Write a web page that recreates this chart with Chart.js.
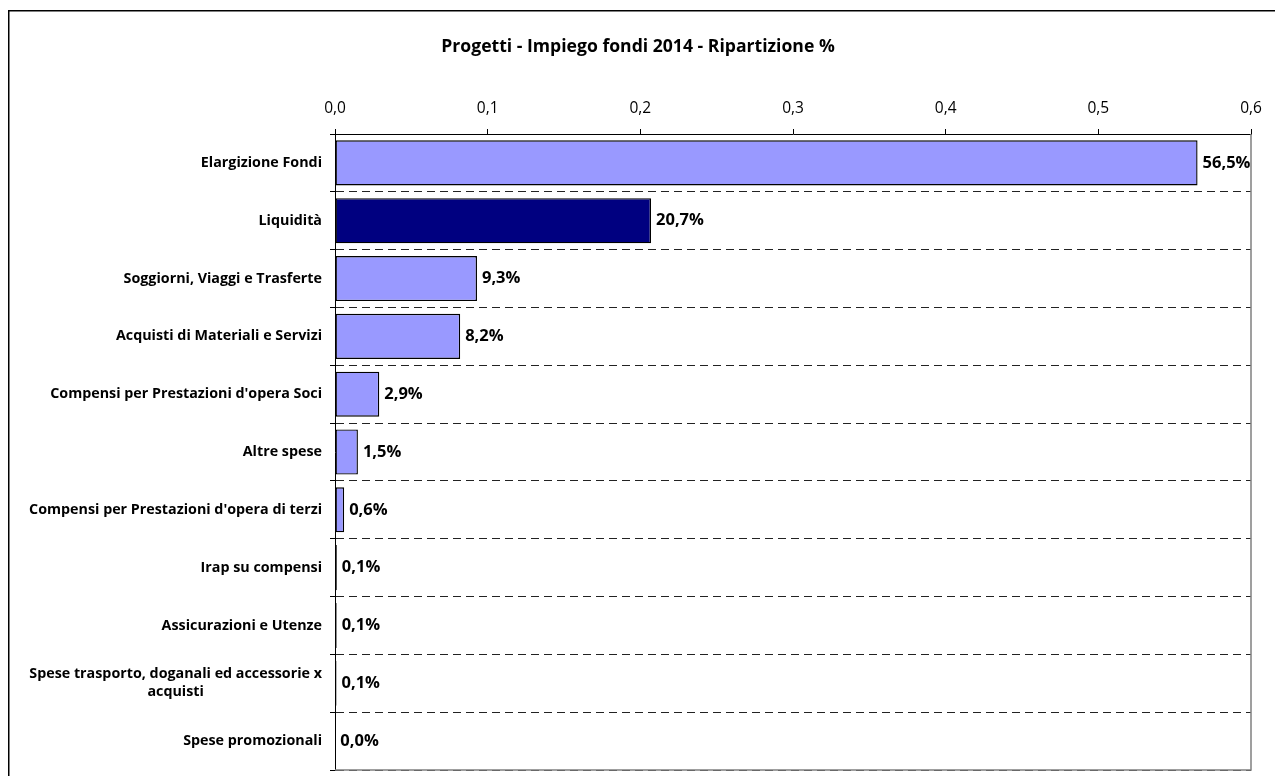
<!DOCTYPE html>
<html><head><meta charset="utf-8">
<script src="https://cdn.jsdelivr.net/npm/chart.js@4/dist/chart.umd.min.js"></script>
<style>html,body{margin:0;padding:0;background:#fff}#wrap{width:1275px;height:776px;position:relative}</style>
</head><body><div id="wrap"><canvas id="c" width="1275" height="776"></canvas></div>
<script>
const chartTitle = 'Progetti - Impiego fondi 2014 - Ripartizione %';
const categories = [
  ['Elargizione Fondi'],
  ['Liquidità'],
  ['Soggiorni, Viaggi e Trasferte'],
  ['Acquisti di Materiali e Servizi'],
  ["Compensi per Prestazioni d'opera Soci"],
  ['Altre spese'],
  ["Compensi per Prestazioni d'opera di terzi"],
  ['Irap su compensi'],
  ['Assicurazioni e Utenze'],
  ['Spese trasporto, doganali ed accessorie x', 'acquisti'],
  ['Spese promozionali']
];
const values = [0.565, 0.207, 0.093, 0.082, 0.029, 0.015, 0.006, 0.0012, 0.0011, 0.001, 0.0002];
const valueLabels = ['56,5%', '20,7%', '9,3%', '8,2%', '2,9%', '1,5%', '0,6%', '0,1%', '0,1%', '0,1%', '0,0%'];
const xTickValues = [0, 0.1, 0.2, 0.3, 0.4, 0.5, 0.6];
const highlightIndex = 1;

const LIGHT = '#9999FF', DARK = '#000080';
const FAM = '"Open Sans", Lato, sans-serif';
const labelFont = 'bold 14.3px ' + FAM;

const deco = {
  id: 'deco',
  afterDraw(chart) {
    const ctx = chart.ctx, a = chart.chartArea;
    ctx.save();
    // outer frame
    ctx.strokeStyle = '#000'; ctx.lineWidth = 1.5;
    ctx.beginPath(); ctx.moveTo(8.75, 800); ctx.lineTo(8.75, 10.75); ctx.lineTo(1300, 10.75); ctx.stroke();
    // plot right/bottom
    ctx.strokeStyle = '#808080'; ctx.lineWidth = 1.5;
    ctx.beginPath(); ctx.moveTo(a.right, a.top); ctx.lineTo(a.right, a.bottom); ctx.lineTo(a.left, a.bottom); ctx.stroke();
    // title
    ctx.fillStyle = '#000'; ctx.font = 'bold 17.6px ' + FAM;
    ctx.textAlign = 'center'; ctx.textBaseline = 'middle';
    ctx.fillText(chartTitle, 638, 47);
    // y labels
    const ys = chart.scales.y;
    ctx.font = labelFont;
    categories.forEach((lines, i) => {
      const yc = ys.getPixelForValue(i);
      const lh = 18;
      const w = Math.max(...lines.map(l => ctx.measureText(l).width));
      const rx = a.left - 13;
      lines.forEach((l, j) => {
        const y = yc + (j - (lines.length - 1) / 2) * lh;
        if (lines.length > 1) { ctx.textAlign = 'center'; ctx.fillText(l, rx - w / 2, y); }
        else { ctx.textAlign = 'right'; ctx.fillText(l, rx, y); }
      });
    });
    // value labels
    const meta = chart.getDatasetMeta(0);
    ctx.textAlign = 'left';
    ctx.font = 'bold 16.5px ' + FAM;
    meta.data.forEach((bar, i) => {
      ctx.fillText(valueLabels[i], bar.x + 5, bar.y);
    });
    ctx.restore();
  }
};

new Chart(document.getElementById('c'), {
  type: 'bar',
  data: {
    labels: categories.map(c => c.join(' ')),
    datasets: [{
      data: values,
      backgroundColor: values.map((v, i) => i === highlightIndex ? DARK : LIGHT),
      borderColor: '#000',
      borderWidth: 1.4,
      borderSkipped: false,
      categoryPercentage: 1,
      barPercentage: 0.78
    }]
  },
  options: {
    indexAxis: 'y',
    responsive: false,
    animation: false,
    devicePixelRatio: 1,
    layout: { padding: { left: 0, right: 24, top: 0, bottom: 6 } },
    plugins: { legend: { display: false }, title: { display: false }, tooltip: { enabled: false } },
    scales: {
      x: {
        position: 'top', min: 0, max: 0.6,
        afterFit(s) { s.height = 134; },
        afterBuildTicks(s) { s.ticks = xTickValues.map(v => ({ value: v })); },
        ticks: {
          padding: 11, color: '#000',
          font: { family: FAM, size: 15.5 },
          callback: v => v.toFixed(1).replace('.', ',')
        },
        grid: { drawOnChartArea: false, drawTicks: true, tickLength: 5, tickColor: '#000' },
        border: { display: true, color: '#000', width: 1 }
      },
      y: {
        afterFit(s) { s.width = 335; },
        ticks: { display: false },
        grid: {
          offset: true, drawTicks: true, tickLength: 5, tickColor: '#000', tickBorderDash: [],
          color: c => (c.index === 0 || c.index === categories.length) ? 'rgba(0,0,0,0)' : '#222',
          lineWidth: 1
        },
        border: { display: true, color: '#000', width: 1, dash: [8, 5] }
      }
    }
  },
  plugins: [deco]
});
</script></body></html>
